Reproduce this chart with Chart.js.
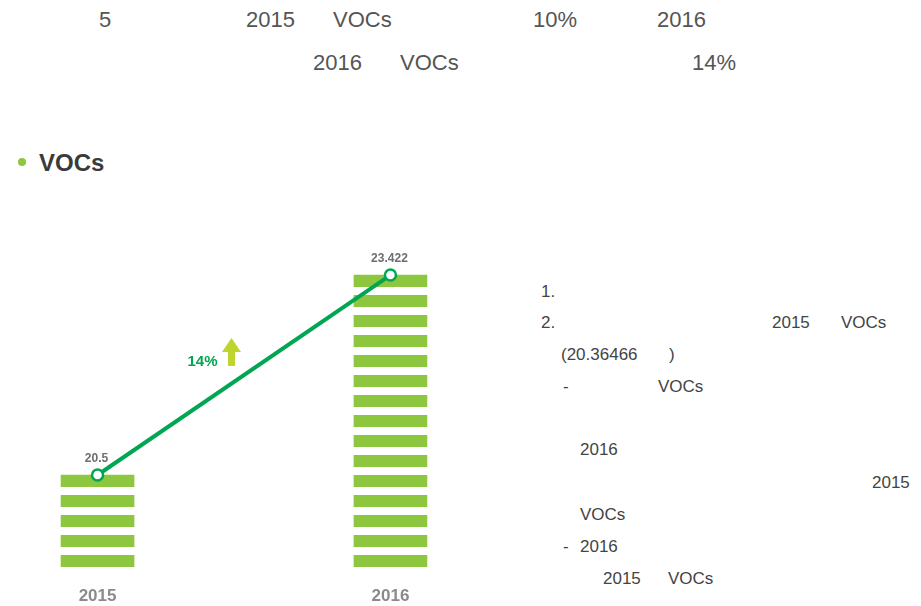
<!DOCTYPE html>
<html>
<head>
<meta charset="utf-8">
<script src="https://cdn.jsdelivr.net/npm/chart.js@4/dist/chart.umd.min.js"></script>
<style>
  html, body { margin: 0; padding: 0; background: #fff; }
  body { width: 921px; height: 606px; position: relative; overflow: hidden;
         font-family: "Liberation Sans", Arial, sans-serif; }
  .t { position: absolute; white-space: nowrap; line-height: 1; color: #555; }
  .top { font-size: 22px; }
  .side { font-size: 17px; color: #444; }
  .head { font-size: 24px; font-weight: bold; color: #3a3a3a; }
  .dot { position: absolute; left: 18px; top: 158px; width: 8px; height: 8px;
         border-radius: 50%; background: #8dc63f; }
  #chartBox { position: absolute; left: 0; top: 200px; width: 500px; height: 406px; }
  #chart { display: block; }
</style>
</head>
<body>

<!-- intro text -->
<span class="t top" style="left:99px; top:9px">5</span>
<span class="t top" style="left:246px; top:9px">2015</span>
<span class="t top" style="left:333px; top:9px">VOCs</span>
<span class="t top" style="left:533px; top:9px">10%</span>
<span class="t top" style="left:657px; top:9px">2016</span>
<span class="t top" style="left:313px; top:52px">2016</span>
<span class="t top" style="left:400px; top:52px">VOCs</span>
<span class="t top" style="left:692px; top:52px">14%</span>

<!-- section heading -->
<div class="dot"></div>
<span class="t head" style="left:39px; top:151px">VOCs</span>

<!-- notes on the right -->
<span class="t side" style="left:541px; top:283px">1.</span>
<span class="t side" style="left:541px; top:314px">2.</span>
<span class="t side" style="left:772px; top:314px">2015</span>
<span class="t side" style="left:841px; top:314px">VOCs</span>
<span class="t side" style="left:561px; top:346px">(20.36466</span>
<span class="t side" style="left:669px; top:346px">)</span>
<span class="t side" style="left:563px; top:378px">-</span>
<span class="t side" style="left:658px; top:378px">VOCs</span>
<span class="t side" style="left:580px; top:441px">2016</span>
<span class="t side" style="left:872px; top:474px">2015</span>
<span class="t side" style="left:580px; top:506px">VOCs</span>
<span class="t side" style="left:563px; top:538px">-</span>
<span class="t side" style="left:580px; top:538px">2016</span>
<span class="t side" style="left:603px; top:570px">2015</span>
<span class="t side" style="left:668px; top:570px">VOCs</span>

<div id="chartBox"><canvas id="chart" width="500" height="406"></canvas></div>

<script>
// =====================
// DATA
// =====================
const YEARS = ["2015", "2016"];
const VOC_VALUES = [20.5, 23.422];
const VALUE_LABELS = ["20.5", "23.422"];
const GROWTH_LABEL = "14%";

// visible value window (bars are pictorial, axis doesn't start at 0)
const Y_MIN = 19.156;
const Y_MAX = 24.08;
const X_MIN = 2014.667;
const X_MAX = 2016.374;

const BAR_GREEN = "#8dc63f";
const LINE_GREEN = "#00a651";
const ARROW_GREEN = "#bed530";

const points = YEARS.map((y, i) => ({ x: Number(y), y: VOC_VALUES[i] }));

// =====================
// PLUGINS
// =====================
// cut the bars into horizontal stripes (12px green, 8px gap)
const stripePlugin = {
  id: "stripes",
  afterDatasetDraw(chart, args) {
    if (args.index !== 0) return;
    const ctx = chart.ctx;
    const area = chart.chartArea;
    ctx.save();
    ctx.beginPath();
    ctx.rect(area.left, area.top, area.width, area.height);
    ctx.clip();
    ctx.fillStyle = "#ffffff";
    args.meta.data.forEach(el => {
      const { x, y, base, width } = el.getProps(["x", "y", "base", "width"], true);
      let g = Math.min(base, area.bottom) - 12;
      while (g > y + 0.5) {
        const gt = Math.max(g - 8, y);
        ctx.fillRect(x - width / 2 - 1, gt, width + 2, g - gt);
        g -= 20;
      }
    });
    ctx.restore();
  }
};

// value labels + growth arrow
const labelPlugin = {
  id: "labels",
  afterDatasetsDraw(chart) {
    const ctx = chart.ctx;
    const pts = chart.getDatasetMeta(1).data;
    ctx.save();
    ctx.textAlign = "center";
    ctx.textBaseline = "middle";
    ctx.font = "bold 12px 'Liberation Sans', Arial, sans-serif";
    ctx.fillStyle = "#6d6e71";
    pts.forEach((p, i) => ctx.fillText(VALUE_LABELS[i], p.x - 1, p.y - 16));

    const mx = (pts[0].x + pts[1].x) / 2;
    const my = (pts[0].y + pts[1].y) / 2;

    ctx.font = "bold 15px 'Liberation Sans', Arial, sans-serif";
    ctx.fillStyle = LINE_GREEN;
    ctx.fillText(GROWTH_LABEL, mx - 41.5, my - 13.5);

    const ax = mx - 12.5;
    ctx.fillStyle = ARROW_GREEN;
    ctx.beginPath();
    ctx.moveTo(ax, my - 37);
    ctx.lineTo(ax + 9.5, my - 23);
    ctx.lineTo(ax + 3.5, my - 23);
    ctx.lineTo(ax + 3.5, my - 9);
    ctx.lineTo(ax - 3.5, my - 9);
    ctx.lineTo(ax - 3.5, my - 23);
    ctx.lineTo(ax - 9.5, my - 23);
    ctx.closePath();
    ctx.fill();
    ctx.restore();
  }
};

// =====================
// CHART
// =====================
new Chart(document.getElementById("chart"), {
  type: "bar",
  data: {
    datasets: [
      {
        type: "bar",
        data: points,
        base: Y_MIN,
        backgroundColor: BAR_GREEN,
        borderWidth: 0,
        barThickness: 73,
        order: 2
      },
      {
        type: "line",
        data: points,
        borderColor: LINE_GREEN,
        borderWidth: 4,
        pointRadius: 5.5,
        pointBorderWidth: 2.5,
        pointBackgroundColor: "#ffffff",
        pointBorderColor: LINE_GREEN,
        tension: 0,
        clip: false,
        order: 1
      }
    ]
  },
  options: {
    responsive: false,
    animation: false,
    devicePixelRatio: 1,
    layout: { autoPadding: false, padding: { top: 30, bottom: 0, left: 0, right: 0 } },
    plugins: {
      legend: { display: false },
      tooltip: { enabled: false }
    },
    scales: {
      x: {
        type: "linear",
        offset: false,
        min: X_MIN,
        max: X_MAX,
        afterBuildTicks: scale => { scale.ticks = YEARS.map(y => ({ value: Number(y) })); },
        afterFit: scale => { scale.height = 39; },
        ticks: {
          callback: v => String(v),
          color: "#8a8a8a",
          padding: 19,
          maxRotation: 0,
          autoSkip: false,
          font: { family: "'Liberation Sans', Arial, sans-serif", size: 17, weight: "bold" }
        },
        grid: { display: false, drawTicks: false },
        border: { display: false }
      },
      y: {
        display: false,
        min: Y_MIN,
        max: Y_MAX
      }
    }
  },
  plugins: [stripePlugin, labelPlugin]
});
</script>
</body>
</html>
